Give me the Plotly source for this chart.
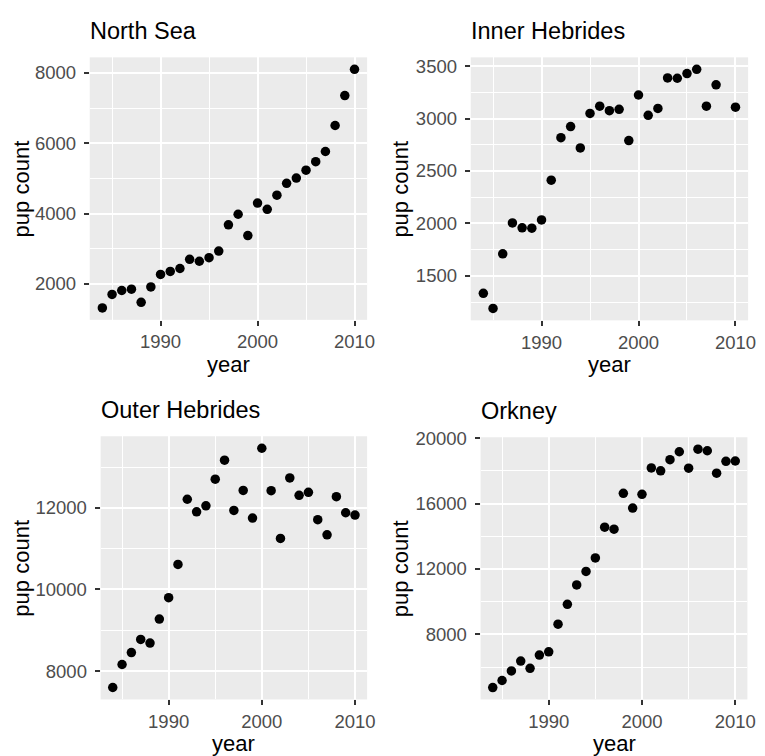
import plotly.graph_objects as go

# Grey seal pup counts by colony, 1984-2010
years = list(range(1984, 2011))
years_inner = [y for y in years if y != 2009]

north_sea = [1318, 1701, 1813, 1850, 1477, 1916, 2271, 2355, 2439, 2701,
             2645, 2748, 2935, 3682, 3981, 3374, 4299, 4121, 4523, 4860,
             5009, 5234, 5477, 5766, 6505, 7355, 8103]
inner_hebrides = [1334, 1190, 1710, 2005, 1958, 1955, 2033, 2412, 2817, 2923,
                  2720, 3049, 3118, 3075, 3088, 2790, 3224, 3030, 3096, 3387,
                  3384, 3428, 3469, 3118, 3321, 3108]
outer_hebrides = [7597, 8161, 8452, 8774, 8685, 9274, 9798, 10613, 12210, 11903,
                  12048, 12702, 13169, 11935, 12427, 11750, 13460, 12419, 11250, 12734,
                  12306, 12379, 11710, 11339, 12274, 11879, 11823]
orkney = [4745, 5176, 5761, 6366, 5922, 6729, 6930, 8625, 9835, 11025,
          11852, 12679, 14555, 14434, 16632, 15724, 16571, 18185, 18003, 18689,
          19173, 18165, 19330, 19234, 17862, 18588, 18608]

titles = ["North Sea", "Inner Hebrides", "Outer Hebrides", "Orkney"]
x_label = "year"
y_label = "pup count"
x_ticks = [1990, 2000, 2010]

W, H = 765, 756
FONT = "Liberation Sans, Arial, sans-serif"
TICK_SIZE = 18.5
AXIS_TITLE_SIZE = 22
TITLE_SIZE = 23.5

# panel boxes in pixels: left, right, top, bottom
boxes = [
    (90.7, 371.0, 48.0, 314.0),
    (475.7, 756.0, 48.0, 314.5),
    (101.7, 371.0, 432.0, 698.7),
    (485.7, 755.3, 433.0, 698.7),
]
# y major step, minor offset
y_steps = [(2000, 1000), (500, 250), (2000, 1000), (4000, 2000)]
ylab_x = [22, 405, 22, 405]

series = [(years, north_sea), (years_inner, inner_hebrides),
          (years, outer_hebrides), (years, orkney)]


def expand(lo, hi, f=0.05):
    d = (hi - lo) * f
    return [lo - d, hi + d]


fig = go.Figure()
annotations = []
for i, ((xs, ys), (l, r, t, b), (maj, mnr)) in enumerate(zip(series, boxes, y_steps)):
    n = "" if i == 0 else str(i + 1)
    fig.add_trace(go.Scatter(
        x=xs, y=ys, mode="markers",
        marker=dict(color="black", size=9.5, line=dict(width=0)),
        xaxis="x" + n, yaxis="y" + n, showlegend=False, hoverinfo="x+y",
    ))
    xr = expand(min(years), max(years))
    yr = expand(min(ys), max(ys))
    common = dict(
        showgrid=True, gridcolor="white", gridwidth=2.2,
        zeroline=False, showline=False,
        ticks="outside", ticklen=5, tickwidth=2, tickcolor="#333333",
        tickfont=dict(family=FONT, size=TICK_SIZE, color="#4D4D4D"),
        tickformat="d",
    )
    fig.update_layout(**{
        "xaxis" + n: dict(
            common, domain=[l / W, r / W], range=xr, anchor="y" + n,
            tickvals=x_ticks, ticklabelstandoff=0,
            minor=dict(tick0=1985, dtick=10, showgrid=True,
                       gridcolor="white", gridwidth=1.1),
        ),
        "yaxis" + n: dict(
            common, domain=[1 - b / H, 1 - t / H], range=yr, anchor="x" + n,
            tick0=0, dtick=maj, ticklabelstandoff=4,
            minor=dict(tick0=mnr, dtick=maj, showgrid=True,
                       gridcolor="white", gridwidth=1.1),
        ),
    })
    # panel title
    annotations.append(dict(
        text=titles[i], xref="paper", yref="paper",
        x=(l - 2) / W, y=1 - (t - 27) / H, xanchor="left", yanchor="middle",
        showarrow=False, font=dict(family=FONT, size=TITLE_SIZE, color="black"),
    ))
    # x axis title
    annotations.append(dict(
        text=x_label, xref="paper", yref="paper",
        x=(l + r) / 2 / W, y=1 - (b + 45) / H, xanchor="center", yanchor="middle",
        showarrow=False, font=dict(family=FONT, size=AXIS_TITLE_SIZE, color="black"),
    ))
    # y axis title
    annotations.append(dict(
        text=y_label, xref="paper", yref="paper", textangle=-90,
        x=ylab_x[i] / W, y=1 - (t + b) / 2 / H, xanchor="center", yanchor="middle",
        showarrow=False, font=dict(family=FONT, size=AXIS_TITLE_SIZE, color="black"),
    ))

fig.update_layout(
    width=W, height=H, margin=dict(l=0, r=0, t=0, b=0),
    paper_bgcolor="white", plot_bgcolor="#EBEBEB",
    annotations=annotations,
)

fig.write_html("out.html")
